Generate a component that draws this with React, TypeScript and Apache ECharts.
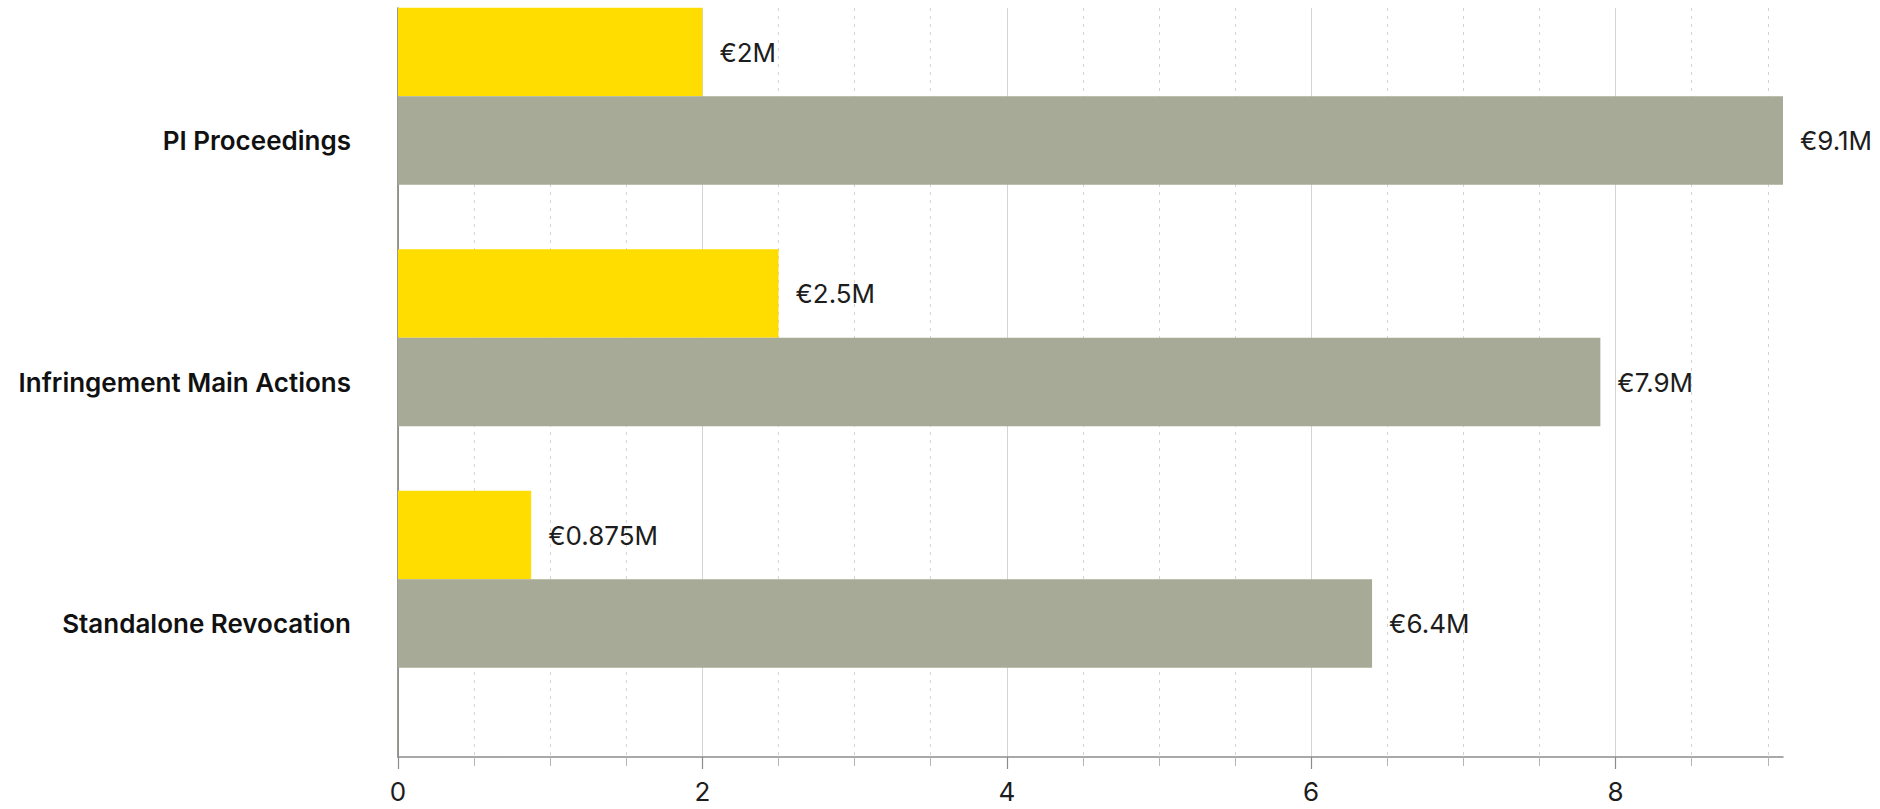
import React, { useEffect, useRef } from "react";
import * as echarts from "echarts";

const categories = ["PI Proceedings", "Infringement Main Actions", "Standalone Revocation"];
const lowerCosts = [2, 2.5, 0.875];
const upperCosts = [9.1, 7.9, 6.4];
const lowerLabels = ["€2M", "€2.5M", "€0.875M"];
const upperLabels = ["€9.1M", "€7.9M", "€6.4M"];
const xTickValues = [0, 2, 4, 6, 8];
const xMax = 9.1;

const FONT = "Inter, 'Noto Sans', sans-serif";

export default function App() {
  const ref = useRef<HTMLDivElement>(null);
  useEffect(() => {
    if (!ref.current) return;
    const chart = echarts.init(ref.current, undefined, { renderer: "svg" });
    const barW = 88.5;
    const labelStyle = { fontSize: 26, color: "#1d1d1d", fontFamily: FONT };
    chart.setOption({
      animation: false,
      backgroundColor: "#ffffff",
      grid: [
        { left: 398, top: 8, width: 1385, height: 749, containLabel: false },
        { left: 398, top: 19.75, width: 1385, height: 724.5, containLabel: false },
      ],
      xAxis: [
        {
          gridIndex: 0,
          type: "value",
          min: 0,
          max: xMax,
          interval: 2,
          axisLine: { show: true, lineStyle: { color: "#8c8c8c", width: 1.5 } },
          axisTick: { show: true, length: 12, customValues: xTickValues, lineStyle: { color: "#8c8c8c", width: 1.2 } },
          minorTick: { show: true, splitNumber: 4, length: 9, lineStyle: { color: "#b5b5b5", width: 1 } },
          axisLabel: { customValues: xTickValues, fontSize: 26, color: "#1d1d1d", margin: 21, fontFamily: FONT },
          splitLine: { show: true, lineStyle: { color: "#d4d4d4", width: 1 } },
          minorSplitLine: { show: true, lineStyle: { color: "#d4d4d4", width: 1, type: [3, 5] } },
        },
        { gridIndex: 1, type: "value", min: 0, max: xMax, show: false },
      ],
      yAxis: [
        {
          gridIndex: 0,
          type: "value",
          min: 0,
          max: 1,
          axisLine: { show: true, lineStyle: { color: "#7a7a72", width: 1.5 } },
          axisTick: { show: false },
          axisLabel: { show: false },
          splitLine: { show: false },
        },
        {
          gridIndex: 1,
          type: "category",
          inverse: true,
          data: categories,
          axisLine: { show: false },
          axisTick: { show: false },
          axisLabel: {
            fontSize: 26,
            fontWeight: 600,
            color: "#111111",
            margin: 47,
            fontFamily: FONT,
          },
          splitLine: { show: false },
        },
      ],
      series: [
        {
          name: "Lower estimate",
          type: "bar",
          xAxisIndex: 1,
          yAxisIndex: 1,
          data: lowerCosts,
          barWidth: barW,
          barGap: 0,
          clip: false,
          itemStyle: { color: "#FFDD00" },
          label: {
            show: true,
            position: "right",
            distance: 17,
            formatter: (p: any) => lowerLabels[p.dataIndex],
            ...labelStyle,
          },
        },
        {
          name: "Upper estimate",
          type: "bar",
          xAxisIndex: 1,
          yAxisIndex: 1,
          data: upperCosts,
          barWidth: barW,
          barGap: 0,
          clip: false,
          itemStyle: { color: "#A7AA96" },
          label: {
            show: true,
            position: "right",
            distance: 17,
            formatter: (p: any) => upperLabels[p.dataIndex],
            ...labelStyle,
          },
        },
        {
          name: "spacer",
          type: "bar",
          xAxisIndex: 1,
          yAxisIndex: 1,
          data: ["-", "-", "-"],
          barWidth: barW,
          barGap: 0,
          silent: true,
        },
      ],
    });
    return () => chart.dispose();
  }, []);
  return (
    <div
      ref={ref}
      style={{ position: "fixed", left: 0, top: 0, width: 1880, height: 809, background: "#fff" }}
    />
  );
}
